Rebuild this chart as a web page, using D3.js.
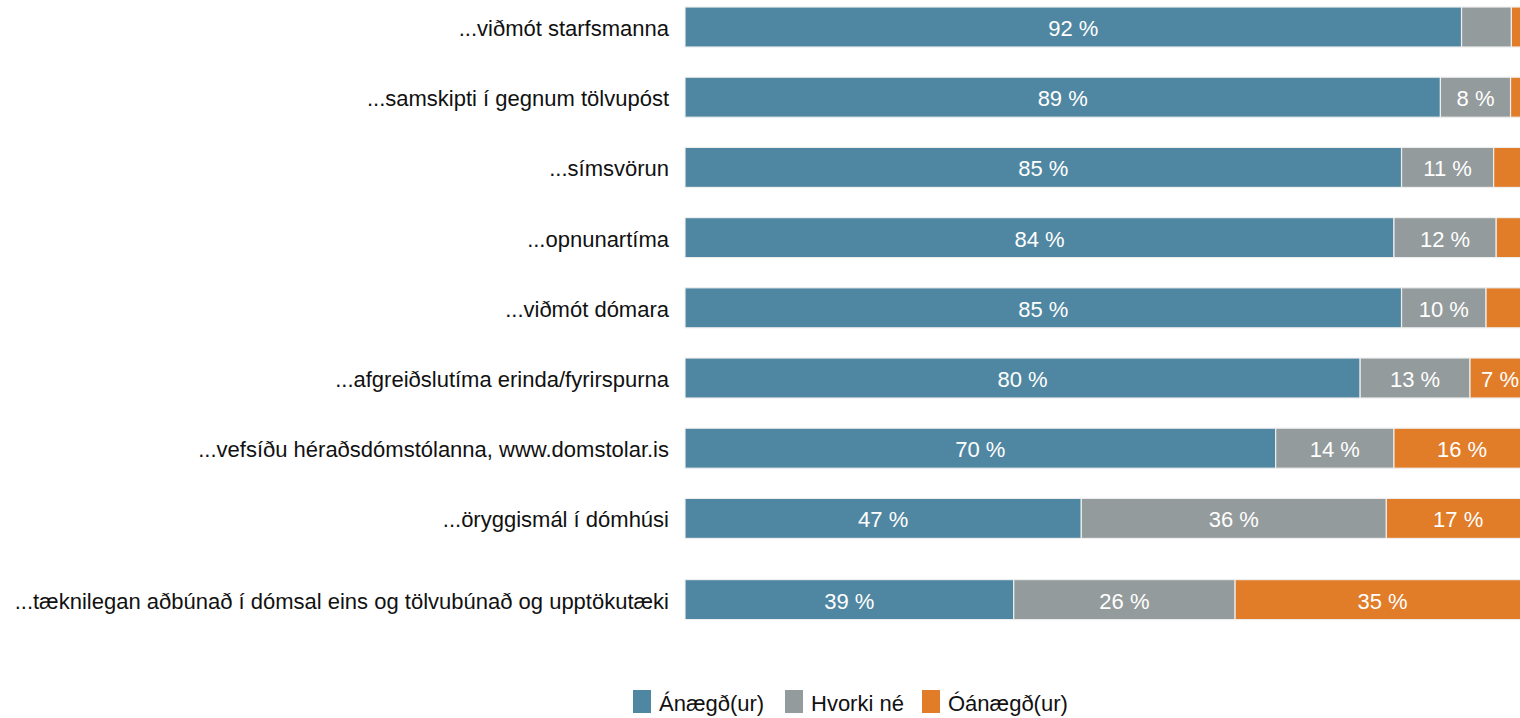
<!DOCTYPE html>
<html>
<head>
<meta charset="utf-8">
<script src="https://cdn.jsdelivr.net/npm/d3@7"></script>
<style>
  body { margin: 0; background: #fff; }
  svg text { font-family: "Liberation Sans", Arial, sans-serif; }
</style>
</head>
<body>
<svg id="chart" width="1520" height="718"></svg>
<script>
const categories = [
    "...viðmót starfsmanna",
    "...samskipti í gegnum tölvupóst",
    "...símsvörun",
    "...opnunartíma",
    "...viðmót dómara",
    "...afgreiðslutíma erinda/fyrirspurna",
    "...vefsíðu héraðsdómstólanna, www.domstolar.is",
    "...öryggismál í dómhúsi",
    "...tæknilegan aðbúnað í dómsal eins og tölvubúnað og upptökutæki"
];
const seriesNames = ["Ánægð(ur)", "Hvorki né", "Óánægð(ur)"];
const satisfied = [91.9, 89.4, 84.8, 83.9, 84.8, 79.9, 69.9, 46.9, 38.9];
const neutral = [5.9, 8.3, 10.9, 12.1, 10.0, 13.0, 14.0, 36.1, 26.2];
const dissatisfied = [2.2, 2.3, 4.3, 4.0, 5.2, 7.1, 16.1, 17.0, 34.9];

const colors = ["#4f87a2", "#949b9c", "#e17c29"];

const svg = d3.select("#chart");

const rows = categories.map((c, i) => ({
    cat: c,
    [seriesNames[0]]: satisfied[i],
    [seriesNames[1]]: neutral[i],
    [seriesNames[2]]: dissatisfied[i]
}));

const stack = d3.stack().keys(seriesNames);
const layers = stack(rows);

const x = d3.scaleLinear().domain([0, 100]).range([685, 1530]);

const step = 70.2;
const pad = 0.43;
const y = d3.scaleBand()
    .domain(categories)
    .range([0, categories.length * step])
    .paddingInner(pad)
    .paddingOuter(pad / 2);

const yOffset = 7 - step * pad / 2;
// last row sits a bit lower in the original
const rowY = d => y(d) + yOffset + (d === categories[categories.length - 1] ? 11 : 0);

const g = svg.append("g");

const layer = g.selectAll(".layer")
    .data(layers)
    .enter()
    .append("g")
    .attr("class", "layer")
    .attr("fill", (d, i) => colors[i]);

layer.selectAll("rect")
    .data(d => d)
    .enter()
    .append("rect")
    .attr("x", d => x(d[0]))
    .attr("y", d => rowY(d.data.cat))
    .attr("width", d => x(d[1]) - x(d[0]))
    .attr("height", y.bandwidth())
    .attr("stroke", "#eeeeee")
    .attr("stroke-width", 1.2);

layer.selectAll("text")
    .data(d => d.filter(v => v[1] - v[0] >= 6.5))
    .enter()
    .append("text")
    .attr("x", d => (x(d[0]) + x(d[1])) / 2)
    .attr("y", d => rowY(d.data.cat) + y.bandwidth() / 2 + 1)
    .attr("dy", "0.36em")
    .attr("text-anchor", "middle")
    .style("font-size", "22px")
    .style("fill", "white")
    .text(d => `${Math.round(d[1] - d[0])} %`);

// category labels
g.selectAll(".cat")
    .data(categories)
    .enter()
    .append("text")
    .attr("class", "cat")
    .attr("x", 669)
    .attr("y", d => rowY(d) + y.bandwidth() / 2 + 1)
    .attr("dy", "0.36em")
    .attr("text-anchor", "end")
    .style("font-size", "22px")
    .style("fill", "#111")
    .text(d => d);

// legend
const legendX = [633, 785, 922];
const legend = svg.selectAll(".legend")
    .data(seriesNames)
    .enter()
    .append("g")
    .attr("class", "legend")
    .attr("transform", (d, i) => `translate(${legendX[i]}, 690)`);

legend.append("rect")
    .attr("width", 18)
    .attr("height", 23)
    .attr("fill", (d, i) => colors[i]);

legend.append("text")
    .attr("x", 26)
    .attr("y", 13)
    .attr("dy", "0.36em")
    .style("font-size", "22px")
    .style("fill", "#111")
    .text(d => d);
</script>
</body>
</html>
